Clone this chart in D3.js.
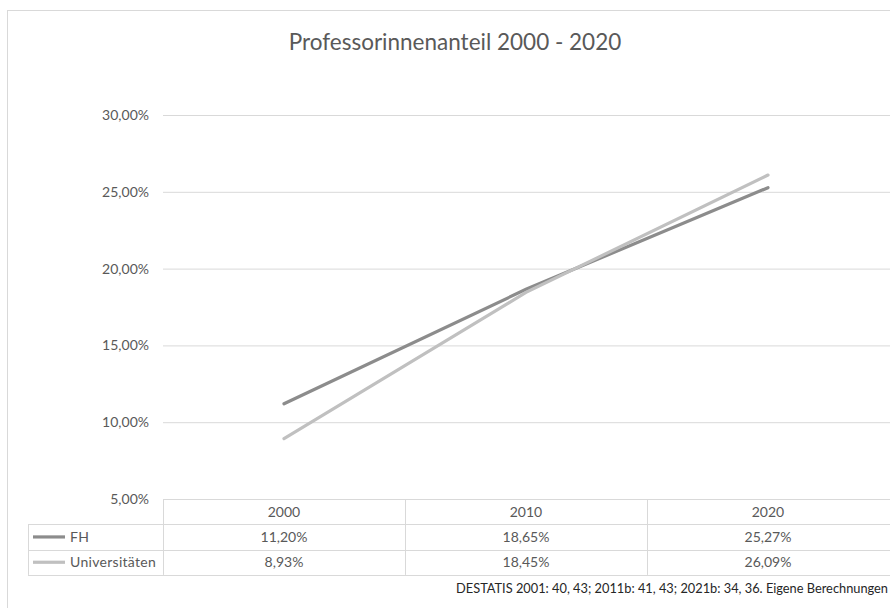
<!DOCTYPE html>
<html>
<head>
<meta charset="utf-8">
<script src="https://cdn.jsdelivr.net/npm/d3@7/dist/d3.min.js"></script>
<style>
  html, body { margin: 0; padding: 0; background: #fff; }
  svg { display: block; }
  text { font-family: Lato, "Open Sans", sans-serif; }
</style>
</head>
<body>
<svg id="chart" width="890" height="608"></svg>
<script>
// ---- data ----
const years = ["2000", "2010", "2020"];
const fhValues = [11.20, 18.65, 25.27];
const uniValues = [8.93, 18.45, 26.09];
const seriesNames = ["FH", "Universitäten"];
const yTicks = [5, 10, 15, 20, 25, 30];
const titleText = "Professorinnenanteil 2000 - 2020";
const sourceText = "DESTATIS 2001: 40, 43; 2011b: 41, 43; 2021b: 34, 36. Eigene Berechnungen";

const series = [
  { name: seriesNames[0], values: fhValues, color: "#8c8c8c" },
  { name: seriesNames[1], values: uniValues, color: "#c0c0c0" }
];

const de = d3.formatLocale({ decimal: ",", thousands: ".", grouping: [3], currency: ["", " €"] });
const fmt = v => de.format(".2f")(v) + "%";

const svg = d3.select("#chart");
const W = 890, H = 608;
const plotLeft = 163, plotRight = 889, plotTop = 115, plotBottom = 499;
const rowH = 25.3;
const legendLeft = 28;
const gridColor = "#d9d9d9";
const labelColor = "#595959";
const fs = 14;

const x = d3.scaleBand().domain(years).range([plotLeft, plotRight]);
const y = d3.scaleLinear().domain([5, 30]).range([plotBottom, plotTop]);

// outer chart border
svg.append("rect")
  .attr("x", 7.5).attr("y", 10.5)
  .attr("width", W + 20).attr("height", H + 20)
  .attr("fill", "none").attr("stroke", "#d9d9d9").attr("stroke-width", 1);

// title
svg.append("text")
  .attr("x", 455).attr("y", 50)
  .attr("text-anchor", "middle")
  .attr("font-size", 22.5)
  .attr("fill", labelColor)
  .text(titleText);

// y grid + labels via axis
const yAxis = d3.axisLeft(y).tickValues(yTicks).tickSize(-(W - plotLeft)).tickPadding(14).tickFormat(fmt);
const gy = svg.append("g").attr("transform", `translate(${plotLeft},0)`).call(yAxis);
gy.select(".domain").remove();
gy.selectAll(".tick line").attr("stroke", gridColor).attr("stroke-width", 1);
gy.selectAll(".tick text")
  .attr("fill", labelColor).attr("font-size", fs)
  .attr("font-family", "Lato, 'Open Sans', sans-serif");

// lines
const line = d3.line()
  .x((d, i) => x(years[i]) + x.bandwidth() / 2)
  .y(d => y(d));

series.forEach(s => {
  svg.append("path")
    .datum(s.values)
    .attr("d", line)
    .attr("fill", "none")
    .attr("stroke", s.color)
    .attr("stroke-width", 3.2)
    .attr("stroke-linecap", "round");
});

// data table
const tbl = svg.append("g");
const tTop = plotBottom;
tbl.append("line").attr("x1", plotLeft).attr("x2", W).attr("y1", tTop + 0.5).attr("y2", tTop + 0.5)
  .attr("stroke", gridColor);
[1, 2, 3].forEach(r => {
  tbl.append("line").attr("x1", legendLeft).attr("x2", W)
    .attr("y1", Math.round(tTop + r * rowH) + 0.5).attr("y2", Math.round(tTop + r * rowH) + 0.5)
    .attr("stroke", gridColor);
});
tbl.append("line").attr("x1", legendLeft + 0.5).attr("x2", legendLeft + 0.5)
  .attr("y1", tTop + rowH).attr("y2", tTop + 3 * rowH).attr("stroke", gridColor);
years.forEach(yr => {
  const xx = Math.round(x(yr)) + 0.5;
  tbl.append("line").attr("x1", xx).attr("x2", xx)
    .attr("y1", tTop).attr("y2", tTop + 3 * rowH).attr("stroke", gridColor);
});
// header row
tbl.selectAll(".hdr").data(years).enter().append("text")
  .attr("x", d => x(d) + x.bandwidth() / 2)
  .attr("y", tTop + rowH / 2 + 5)
  .attr("text-anchor", "middle").attr("font-size", fs).attr("fill", labelColor)
  .text(d => d);
// series rows
series.forEach((s, r) => {
  const cy = tTop + (r + 1) * rowH + rowH / 2;
  tbl.append("line")
    .attr("x1", legendLeft + 5).attr("x2", legendLeft + 37)
    .attr("y1", cy).attr("y2", cy)
    .attr("stroke", s.color).attr("stroke-width", 3.2);
  tbl.append("text")
    .attr("x", legendLeft + 42).attr("y", cy + 5)
    .attr("font-size", fs).attr("fill", labelColor)
    .attr("letter-spacing", 0.3)
    .text(s.name);
  tbl.selectAll(null).data(s.values).enter().append("text")
    .attr("x", (d, i) => x(years[i]) + x.bandwidth() / 2)
    .attr("y", cy + 5)
    .attr("text-anchor", "middle").attr("font-size", fs).attr("fill", labelColor)
    .text(d => fmt(d));
});

// source note
svg.append("text")
  .attr("x", 888).attr("y", 593)
  .attr("text-anchor", "end")
  .attr("font-size", 12.8)
  .attr("fill", "#262626")
  .text(sourceText);
</script>
</body>
</html>
